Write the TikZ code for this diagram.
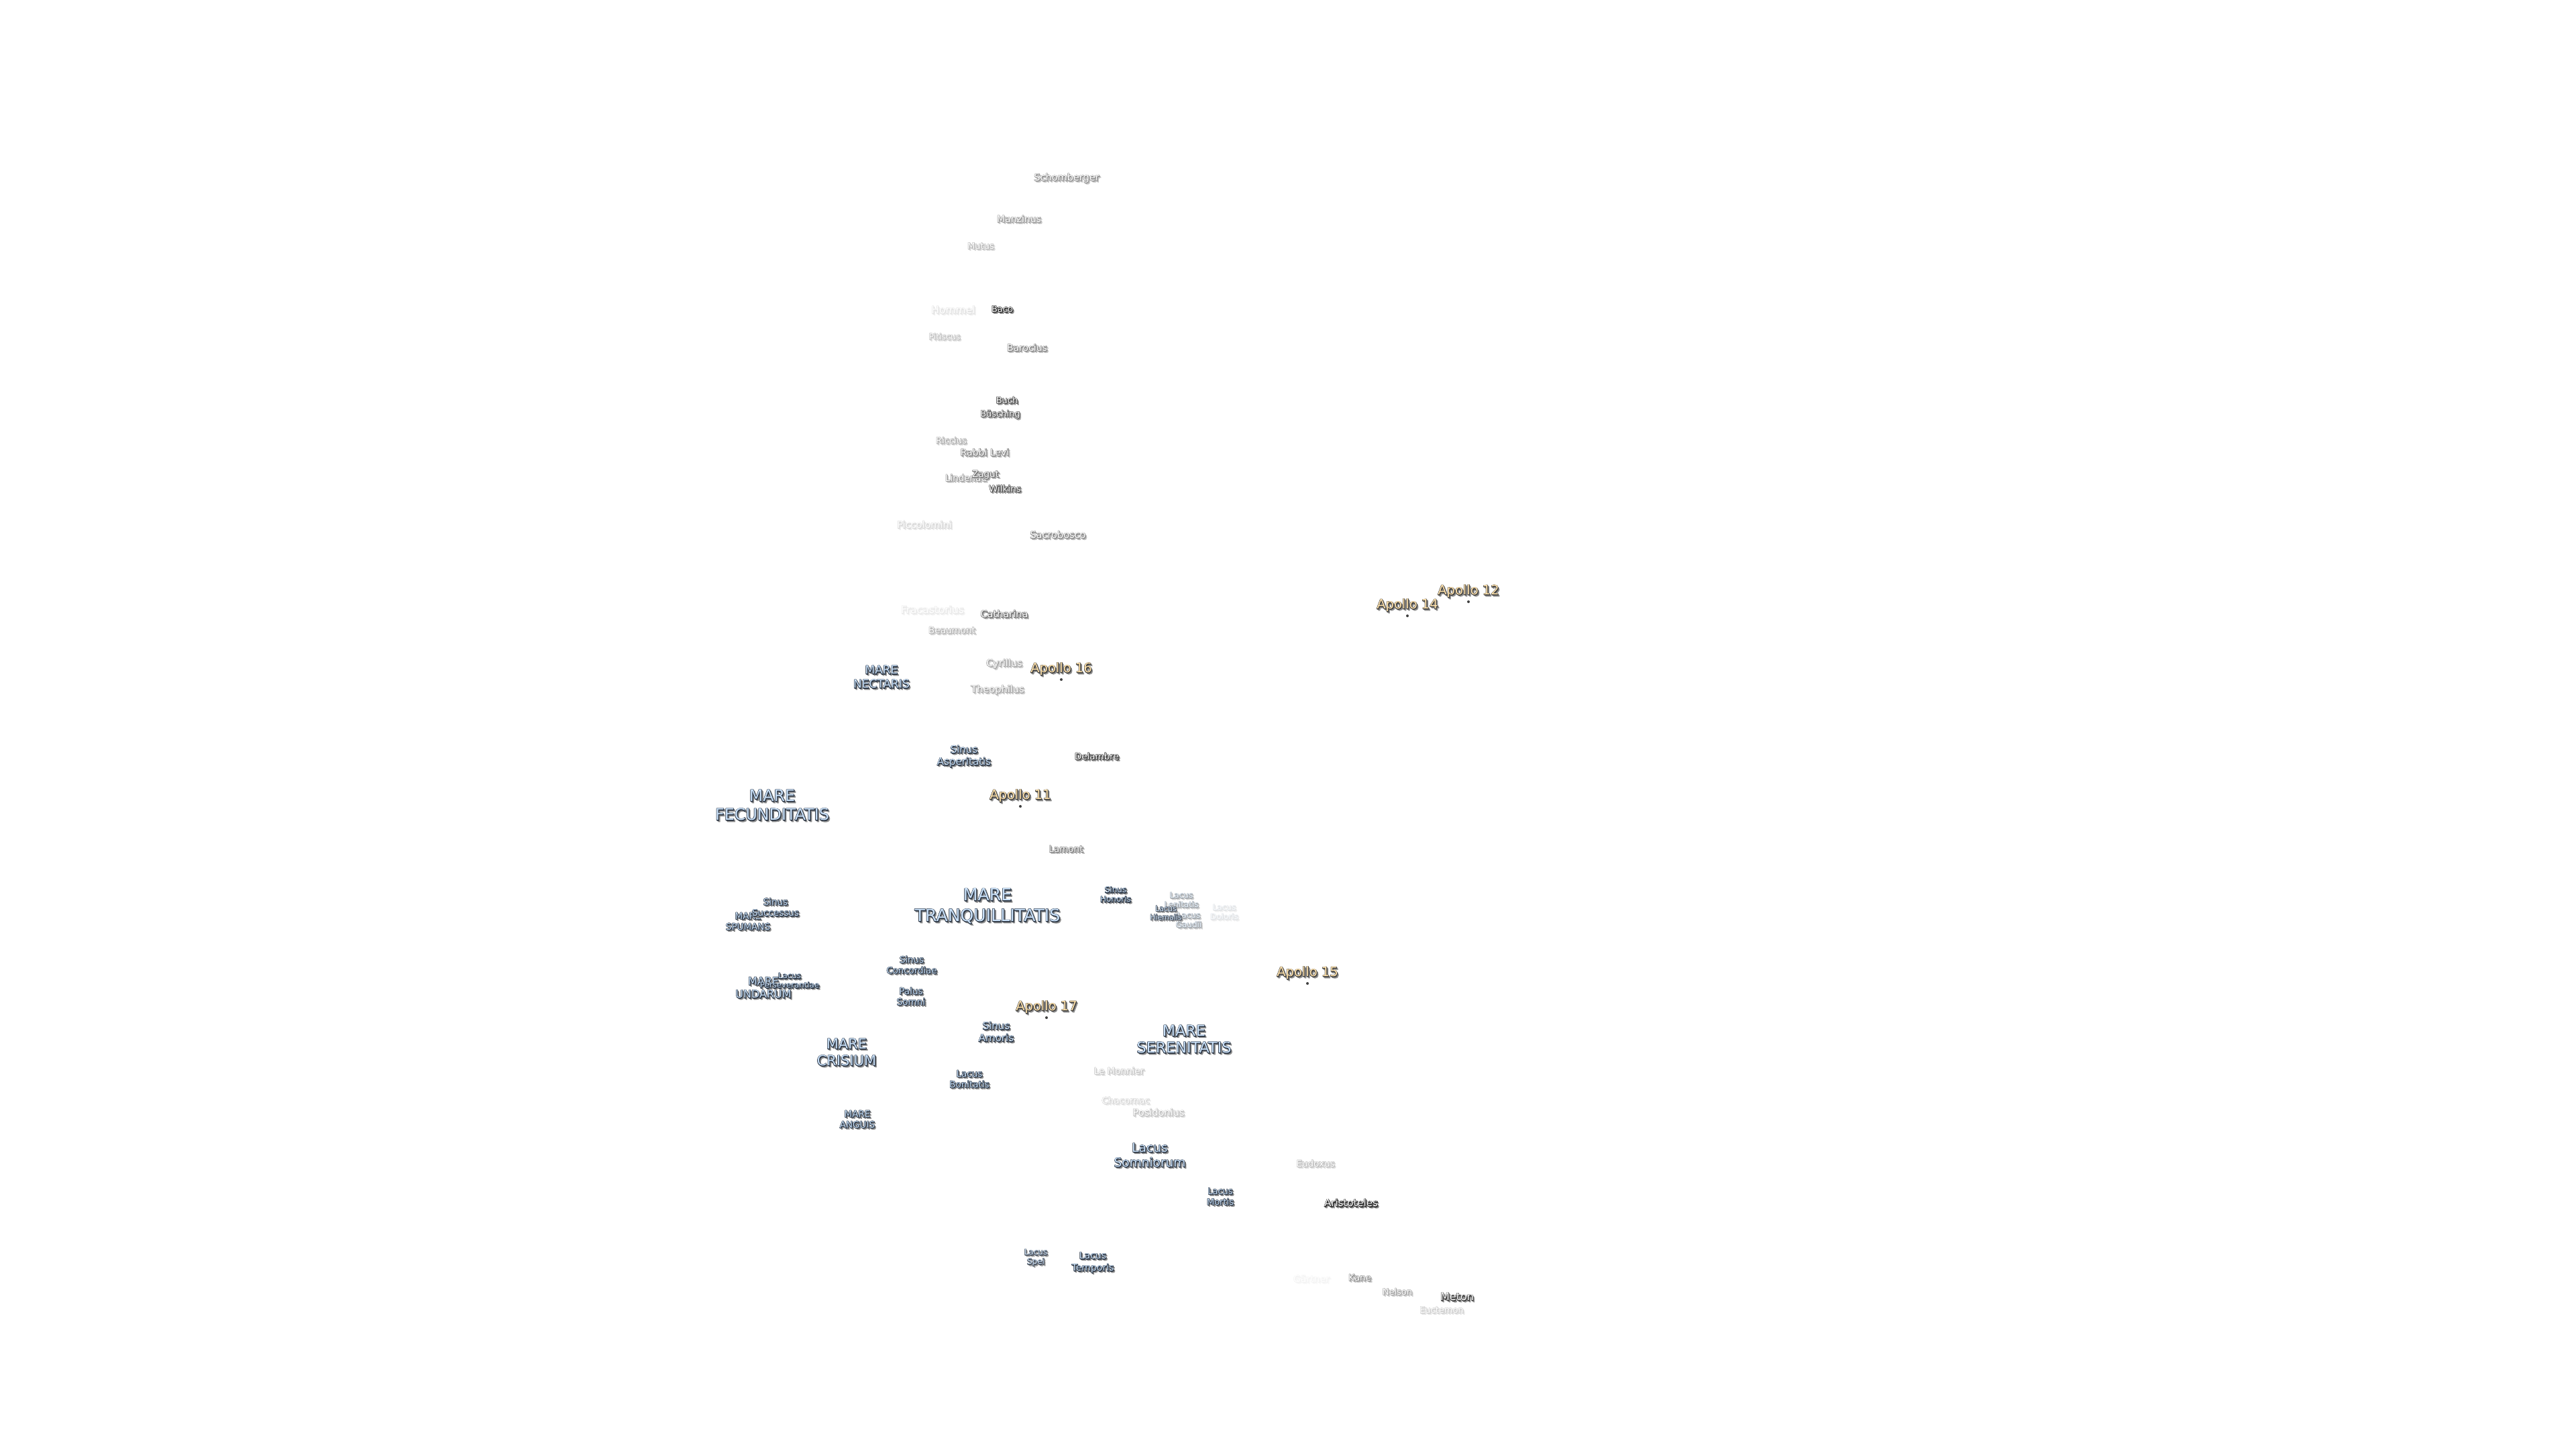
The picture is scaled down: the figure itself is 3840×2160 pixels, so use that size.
\documentclass[tikz,border=0pt]{standalone}
\usepackage{fontspec}
\setmainfont{DejaVu Sans}
\newfontfamily\fontfat[FakeBold=3]{DejaVu Sans}
\newfontfamily\fontmid[FakeBold=2]{DejaVu Sans}
\definecolor{seafill}{HTML}{C9E0F8}
\definecolor{seahalo}{HTML}{2C3644}
\definecolor{craterfill}{HTML}{FFFFFF}
\definecolor{craterhalo}{HTML}{262626}
\definecolor{landfill}{HTML}{FFE2AC}
\definecolor{landhalo}{HTML}{404040}
\definecolor{softshadow}{HTML}{8E8E8E}
\newcommand{\layertext}[5]{% dx, dy (pt), font, colour, text
  \rlap{\hspace*{#1pt}\raisebox{#2pt}{#3\color{#4}\begin{tabular}{@{}c@{}}#5\end{tabular}}}}
% id, x, y, size px, leading px, kind, strength %, text
\newcommand{\lab}[8]{%
  \pgfmathsetmacro\lblfs{#4*0.25}%
  \pgfmathsetmacro\lblls{#5*0.25}%
  \node[lbl] (#1) at (#2,#3) {\fontsize{\lblfs pt}{\lblls pt}\selectfont
    \setbox0=\hbox{\begin{tabular}{@{}c@{}}#8\end{tabular}}%
    \layertext{0.6}{-0.6}{\fontfat}{softshadow!#7!white}{#8}%
    \layertext{0.4}{-0.4}{\fontfat}{softshadow!#7!white}{#8}%
    \layertext{0.22}{-0.22}{\fontmid}{#6halo!#7!white}{#8}%
    \layertext{0.1}{0.1}{\fontmid}{#6halo!#7!white}{#8}%
    \layertext{-0.1}{-0.1}{\fontmid}{#6halo!#7!white}{#8}%
    \layertext{-0.1}{0.1}{\fontmid}{#6halo!#7!white}{#8}%
    \color{#6fill!#7!white}\copy0};}
\tikzset{
  lbl/.style={inner sep=0pt,outer sep=0pt,anchor=center,align=center,xshift=-0.25pt,yshift=-0.5pt},
  sitedot/.style={circle,fill=landhalo,draw=none,minimum size=1pt,inner sep=0pt,xshift=-0.25pt,yshift=-0.5pt}
}
\begin{document}
\begin{tikzpicture}[x=0.25pt,y=-0.25pt]
\useasboundingbox (0,0) rectangle (3840,2160);
% craters north
\lab{schomberger}{1591}{265}{14.5}{17}{crater}{50}{Schomberger}
\lab{manzinus}{1520}{327}{14}{17}{crater}{45}{Manzinus}
\lab{mutus}{1463}{367}{13}{16}{crater}{32}{Mutus}
\lab{hommel}{1422}{463}{15.5}{18}{crater}{13}{Hommel}
\lab{baco}{1495}{461}{13}{16}{crater}{100}{Baco}
\lab{pitiscus}{1409}{502}{12.5}{16}{crater}{28}{Pitiscus}
\lab{barocius}{1532}{519}{14}{17}{crater}{55}{Barocius}
\lab{buch}{1502}{597}{13}{16}{crater}{85}{Buch}
\lab{busching}{1492}{617}{13}{16}{crater}{75}{Büsching}
\lab{riccius}{1419}{657}{13}{16}{crater}{38}{Riccius}
\lab{rabbilevi}{1469}{675}{14}{17}{crater}{55}{Rabbi Levi}
\lab{lindenau}{1441}{713}{13.5}{16}{crater}{45}{Lindenau}
\lab{zagut}{1470}{707}{13.5}{16}{crater}{65}{Zagut}
\lab{wilkins}{1499}{729}{13.5}{16}{crater}{80}{Wilkins}
\lab{piccolomini}{1379}{783}{14.5}{17}{crater}{18}{Piccolomini}
\lab{sacrobosco}{1578}{798}{14.5}{17}{crater}{55}{Sacrobosco}
\lab{fracastorius}{1391}{910}{15.5}{18}{crater}{10}{Fracastorius}
\lab{catharina}{1498}{916}{14.5}{17}{crater}{65}{Catharina}
\lab{beaumont}{1420}{940}{13.5}{16}{crater}{35}{Beaumont}
\lab{cyrillus}{1498}{989}{14.5}{17}{crater}{40}{Cyrillus}
\lab{theophilus}{1488}{1028}{14.5}{17}{crater}{40}{Theophilus}
\lab{delambre}{1636}{1128}{13.5}{16}{crater}{90}{Delambre}
\lab{lamont}{1590}{1266}{13.5}{16}{crater}{60}{Lamont}
% seas and bays
\lab{nectaris}{1315}{1010}{17}{21}{sea}{100}{MARE\\NECTARIS}
\lab{asperitatis}{1438}{1127}{15}{18}{sea}{100}{Sinus\\Asperitatis}
\lab{fecunditatis}{1152}{1202}{23.8}{28}{sea}{100}{MARE\\FECUNDITATIS}
\lab{tranquillitatis}{1473}{1351}{25.2}{30.7}{sea}{100}{MARE\\TRANQUILLITATIS}
\lab{spumans}{1116}{1374}{13.5}{16}{sea}{100}{MARE\\SPUMANS}
\lab{successus}{1157}{1353}{13.5}{16.5}{sea}{100}{Sinus\\Successus}
\lab{concordiae}{1360}{1439}{13.3}{16}{sea}{100}{Sinus\\Concordiae}
\lab{undarum}{1139}{1473}{16}{19.5}{sea}{100}{MARE\\UNDARUM}
\lab{perseverantiae}{1178}{1462}{11.8}{14}{sea}{100}{Lacus\\Perseverantiae}
\lab{somni}{1359}{1486}{13.5}{16}{sea}{100}{Palus\\Somni}
\lab{crisium}{1263}{1570}{21}{25}{sea}{100}{MARE\\CRISIUM}
\lab{amoris}{1486}{1539}{15}{18}{sea}{100}{Sinus\\Amoris}
\lab{bonitatis}{1446}{1609}{13.5}{16}{sea}{100}{Lacus\\Bonitatis}
\lab{anguis}{1279}{1669}{13.5}{16}{sea}{100}{MARE\\ANGUIS}
\lab{serenitatis}{1766}{1551}{22.3}{25}{sea}{100}{MARE\\SERENITATIS}
\lab{honoris}{1664}{1334}{12}{14}{sea}{100}{Sinus\\Honoris}
\lab{lenitatis}{1762}{1342}{12}{14}{sea}{42}{Lacus\\Lenitatis}
\lab{gaudii}{1773}{1372}{12}{14}{sea}{42}{Lacus\\Gaudii}
\lab{hiemalis}{1739}{1361}{11}{13}{sea}{85}{Lacus\\Hiemalis}
\lab{doloris}{1826}{1360}{12}{14}{sea}{13}{Lacus\\Doloris}
\lab{somniorum}{1715}{1723}{18.5}{22}{sea}{100}{Lacus\\Somniorum}
\lab{mortis}{1820}{1784}{13}{16}{sea}{100}{Lacus\\Mortis}
\lab{spei}{1545}{1874}{12}{14}{sea}{85}{Lacus\\Spei}
\lab{temporis}{1630}{1881}{14}{18}{sea}{100}{Lacus\\Temporis}
% craters south
\lab{lemonnier}{1669}{1597}{13.5}{16}{crater}{25}{Le Monnier}
\lab{chacornac}{1679}{1641}{13.5}{16}{crater}{18}{Chacornac}
\lab{posidonius}{1728}{1659}{14.5}{17}{crater}{28}{Posidonius}
\lab{eudoxus}{1962}{1735}{13.5}{16}{crater}{30}{Eudoxus}
\lab{aristoteles}{2015}{1794}{15}{18}{crater}{100}{Aristoteles}
\lab{gartner}{1956}{1907}{14}{17}{crater}{5}{Gärtner}
\lab{kane}{2028}{1905}{13.5}{16}{crater}{50}{Kane}
\lab{nelson}{2084}{1926}{13}{16}{crater}{40}{Nelson}
\lab{meton}{2173}{1934}{16}{19}{crater}{90}{Meton}
\lab{euctemon}{2150}{1953}{13}{16}{crater}{22}{Euctemon}
% landing sites
\lab{apollo12}{2190}{881}{19.5}{23}{land}{100}{Apollo 12}
\node[sitedot] (dot12) at (2190,895) {};
\lab{apollo14}{2099}{902}{19.5}{23}{land}{100}{Apollo 14}
\node[sitedot] (dot14) at (2099,916) {};
\lab{apollo16}{1583}{997}{19.5}{23}{land}{100}{Apollo 16}
\node[sitedot] (dot16) at (1583,1011) {};
\lab{apollo11}{1522}{1186}{19.5}{23}{land}{100}{Apollo 11}
\node[sitedot] (dot11) at (1522,1200) {};
\lab{apollo15}{1950}{1450}{19.5}{23}{land}{100}{Apollo 15}
\node[sitedot] (dot15) at (1950,1464) {};
\lab{apollo17}{1561}{1501}{19.5}{23}{land}{100}{Apollo 17}
\node[sitedot] (dot17) at (1561,1515) {};
\end{tikzpicture}
\end{document}
